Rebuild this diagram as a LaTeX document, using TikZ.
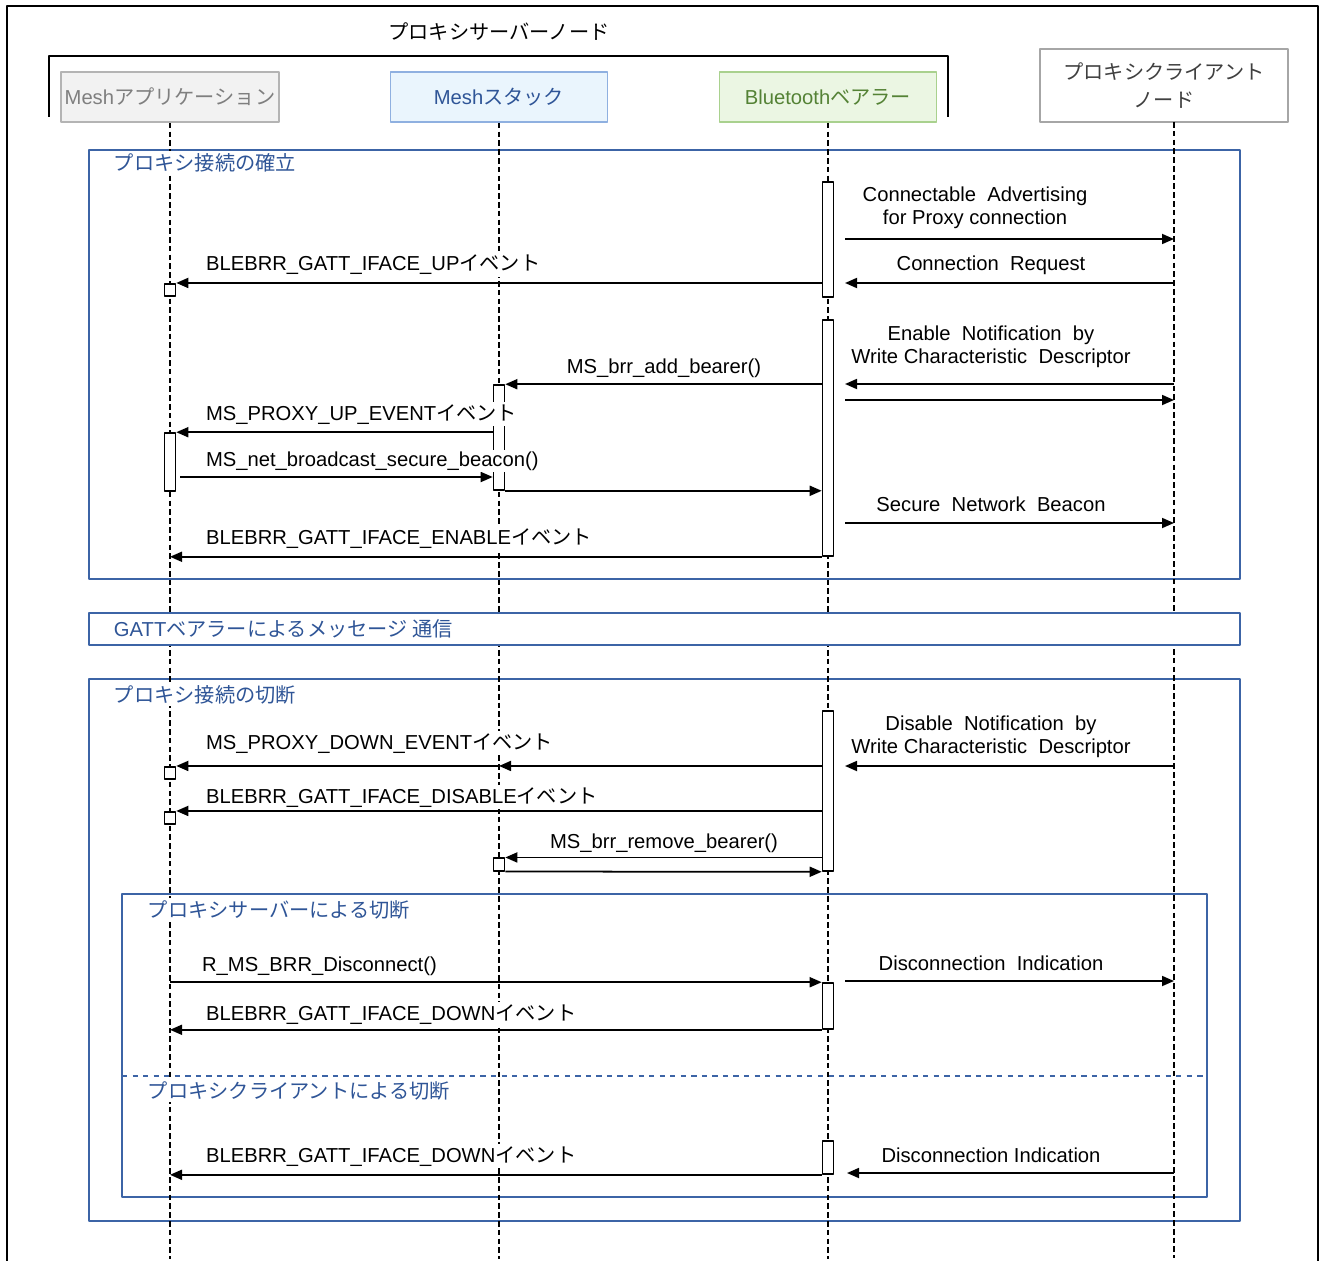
\documentclass[tikz,border=0pt]{standalone}
\usepackage{fontspec}
\setmainfont{Liberation Sans}
\newfontfamily\jpfont{Noto Sans CJK JP}
\newcommand\jp[1]{{\jpfont #1}}
\usetikzlibrary{arrows.meta}
\definecolor{grpblue}{HTML}{3C64A6}
\definecolor{txtblue}{HTML}{2F5597}
\definecolor{appfill}{HTML}{F2F2F2}
\definecolor{appline}{HTML}{B4B4B4}
\definecolor{apptext}{HTML}{7F7F7F}
\definecolor{stkfill}{HTML}{EAF5FD}
\definecolor{stkline}{HTML}{8FB0E0}
\definecolor{brfill}{HTML}{EBF6E3}
\definecolor{brline}{HTML}{A9D18E}
\definecolor{brtext}{HTML}{548235}
\definecolor{clline}{HTML}{A6A6A6}
\definecolor{cltext}{HTML}{404040}
\begin{document}
\begin{tikzpicture}[x=0.02cm, y=-0.02cm, >={Triangle[length=2.4mm,width=2mm]},
	font=\fontsize{11.5}{13.3}\selectfont, line join=round,
	hdr/.style={draw, line width=1pt, minimum width=4.34cm, minimum height=1cm, inner sep=2pt},
	life/.style={line width=1pt, dash pattern=on 3.2pt off 1.8pt},
	bar/.style={draw, fill=white, line width=0.9pt, minimum width=0.22cm, inner sep=0pt},
	sq/.style={draw, fill=white, line width=0.9pt, minimum width=0.22cm, minimum height=0.25cm, inner sep=0pt},
	msg/.style={->, line width=1pt},
	lbl/.style={fill=white, inner sep=1pt, anchor=base west},
	lblc/.style={fill=white, inner sep=1pt, align=center},
	grp/.style={draw=grpblue, line width=1.1pt},
	grptitle/.style={text=txtblue, fill=white, anchor=base west, inner sep=1.5pt}]
	\def\xa{170} \def\xs{499} \def\xb{828} \def\xc{1174} % lifelines
	\useasboundingbox (0,0) rectangle (1324,1260);
	\draw[line width=1.5pt] (7,1262) |- (1318,6) -- (1318,1262);
	\draw[line width=1.6pt] (49,117) |- (948,56) -- (948,117);
	\node[anchor=base] (srv) at (499,40) {\jp{プロキシサーバーノード}};
	% frames
	\draw[grp] (89,150) rectangle (1240,579);
	\draw[grp] (89,679) rectangle (1240,1221);
	\draw[grp] (122,894) rectangle (1207,1197);
	\draw[grp, dashed] (122,1076) -- (1207,1076);
	% headers
	\node[hdr, draw=appline, fill=appfill, text=apptext] (app) at (\xa,97) {Mesh\jp{アプリケーション}};
	\node[hdr, draw=stkline, fill=stkfill, text=txtblue] (stack) at (\xs,97) {Mesh\jp{スタック}};
	\node[hdr, draw=brline, fill=brfill, text=brtext] (bearer) at (\xb,97) {Bluetooth\jp{ベアラー}};
	\node[hdr, draw=clline, fill=white, text=cltext, minimum width=4.96cm, minimum height=1.46cm, align=center] (client) at (1164,85.5) {\jp{プロキシクライアント}\\[3pt]\jp{ノード}};
	\coordinate (cl) at (\xc,122);
	\foreach \n in {app,stack,bearer} \draw[life] (\n.south) -- ++(0,1136);
	\draw[life] (cl) -- ++(0,1136);
	% GATT band and frame titles over the lifelines
	\draw[grp, fill=white] (89,613) rectangle (1240,645);
	\node[grptitle] (g1) at (111,171) {\jp{プロキシ接続の確立}};
	\node[grptitle] (g2) at (111,636) {GATT\jp{ベアラーによるメッセージ 通信}};
	\node[grptitle] (g3) at (111,702) {\jp{プロキシ接続の切断}};
	\node[grptitle] (g4) at (145,917) {\jp{プロキシサーバーによる切断}};
	\node[grptitle] (g5) at (145,1098) {\jp{プロキシクライアントによる切断}};
	% activations
	\node[bar, minimum height=2.3cm] (b1) at (\xb,239.5) {};
	\node[bar, minimum height=4.72cm] (b2) at (\xb,438) {};
	\node[bar, minimum height=3.2cm] (b3) at (\xb,791) {};
	\node[bar, minimum height=0.92cm] (b4) at (\xb,1006) {};
	\node[bar, minimum height=0.66cm] (b5) at (\xb,1157.5) {};
	\node[bar, minimum height=1.16cm] (abar) at (\xa,462) {};
	\node[bar, minimum height=2.1cm] (sbar) at (\xs,437.5) {};
	\node[sq] (sq1) at (\xa,290) {};
	\node[sq] (sq2) at (\xa,773) {};
	\node[sq] (sq3) at (\xa,818) {};
	\node[sq] (ssq) at (\xs,864.5) {};
	% messages
	\coordinate (r1) at (845,239);
	\coordinate (r2) at (845,283);
	\coordinate (r3) at (845,384);
	\coordinate (r4) at (845,400);
	\coordinate (r5) at (845,523);
	\coordinate (r6) at (845,766);
	\coordinate (r7) at (845,981);
	\coordinate (r8) at (847,1173);
	\coordinate (nb) at (180,477);
	\draw[msg] (r1) -- (r1 -| cl);
	\draw[msg] (r2 -| cl) -- (r2);
	\draw[msg] (b1.west |- sq1.north east) -- (sq1.north east);
	\draw[msg] (r3 -| cl) -- (r3);
	\draw[msg] (r4) -- (r4 -| cl);
	\draw[msg] (b2.west |- sbar.north east) -- (sbar.north east);
	\draw[msg] (sbar.west |- abar.north east) -- (abar.north east);
	\draw[msg] (nb) -- (nb -| sbar.west);
	\draw[msg] (sbar.south east) -- (b2.west |- sbar.south east);
	\draw[msg] (r5) -- (r5 -| cl);
	\draw[msg] (b2.south west) -- (app.south |- b2.south west);
	\draw[msg] (r6 -| cl) -- (r6);
	\draw[msg] (b3.west |- sq2.north east) -- (stack.south |- sq2.north east);
	\draw[msg] (stack.south |- sq2.north east) -- (sq2.north east);
	\draw[msg] (b3.west |- sq3.north east) -- (sq3.north east);
	\draw[msg] (b3.west |- ssq.north east) -- (ssq.north east);
	\draw[msg] (ssq.south east) -- (b3.south west);
	\draw[msg] (app.south |- b4.north west) -- (b4.north west);
	\draw[msg] (r7) -- (r7 -| cl);
	\draw[msg] (b4.south west) -- (app.south |- b4.south west);
	\draw[msg] (r8 -| cl) -- (r8);
	\draw[msg] (b5.south west) -- (app.south |- b5.south west);
	% labels
	\node[lblc] (t1) at (975,208) {Connectable\ \ Advertising\\for Proxy connection};
	\node[lblc, anchor=base] (t2) at (991,271) {Connection\ \ Request};
	\node[lbl] (t3) at (204,271) {BLEBRR\_GATT\_IFACE\_UP\jp{イベント}};
	\node[lblc] (t4) at (991,347) {Enable\ \ Notification\ \ by\\Write Characteristic\ \ Descriptor};
	\node[lblc, anchor=base] (t5) at (664,373) {MS\_brr\_add\_bearer()};
	\node[lbl] (t6) at (204,420) {MS\_PROXY\_UP\_EVENT\jp{イベント}};
	\node[lbl] (t7) at (204,466) {MS\_net\_broadcast\_secure\_beacon()};
	\node[lblc, anchor=base] (t8) at (991,511) {Secure\ \ Network\ \ Beacon};
	\node[lbl] (t9) at (204,544) {BLEBRR\_GATT\_IFACE\_ENABLE\jp{イベント}};
	\node[lblc] (t10) at (991,737) {Disable\ \ Notification\ \ by\\Write Characteristic\ \ Descriptor};
	\node[lbl] (t11) at (204,749) {MS\_PROXY\_DOWN\_EVENT\jp{イベント}};
	\node[lbl] (t12) at (204,803) {BLEBRR\_GATT\_IFACE\_DISABLE\jp{イベント}};
	\node[lblc, anchor=base] (t13) at (664,848) {MS\_brr\_remove\_bearer()};
	\node[lbl] (t14) at (200,971) {R\_MS\_BRR\_Disconnect()};
	\node[lblc, anchor=base] (t15) at (991,970) {Disconnection\ \ Indication};
	\node[lbl] (t16) at (204,1020) {BLEBRR\_GATT\_IFACE\_DOWN\jp{イベント}};
	\node[lbl] (t17) at (204,1162) {BLEBRR\_GATT\_IFACE\_DOWN\jp{イベント}};
	\node[lblc, anchor=base] (t18) at (991,1162) {Disconnection Indication};
\end{tikzpicture}
\end{document}
